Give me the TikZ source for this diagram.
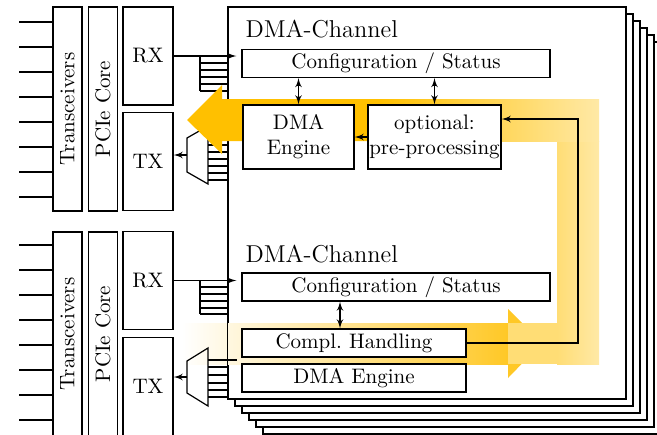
\documentclass[tikz,border=0pt]{standalone}
\usepackage{graphicx}
\usetikzlibrary{arrows}
\definecolor{dmaorange}{HTML}{FFC000}
\definecolor{dmagold}{HTML}{FFC826}
\definecolor{dmalight}{HTML}{FFDD75}
\definecolor{dmapale}{HTML}{FFE9A6}
\tikzstyle{line} = [draw, -latex']
\tikzstyle{dline} = [draw, latex'-latex']
\tikzstyle{phy} = [rectangle, draw, fill=white, inner sep=0pt, minimum width=14.5pt, minimum height=102pt, font=\fontsize{10.5}{12.5}\selectfont]
\tikzstyle{port} = [rectangle, draw, fill=white, inner sep=0pt, minimum width=25pt, minimum height=49pt, font=\fontsize{10.5}{12.5}\selectfont]
\tikzstyle{chan} = [rectangle, draw, fill=white, inner sep=0pt, minimum width=199pt, minimum height=196pt]
\tikzstyle{unit} = [rectangle, draw, fill=white, inner sep=0pt, align=center, minimum height=14pt, font=\fontsize{10.5}{12.5}\selectfont]
\tikzstyle{chantitle} = [anchor=base west, inner sep=0pt, font=\fontsize{12.2}{14}\selectfont]

\begin{document}
\begin{tikzpicture}[x=0.5pt, y=-0.5pt, semithick]
\useasboundingbox (0,0) rectangle (657,434);

% stacked channels
\foreach \i in {5,4,3,2,1}
  \node [chan] (stack\i) at (427+7*\i, 203+7*\i) {};
\node [chan] (chan) at (427,203) {};

% data flow, lower part
\shade [left color=white, right color=dmagold] (182,323) rectangle (508,364);
\fill [dmagold] (508,309) -- (542,343) -- (508,378) -- cycle;
\fill [dmalight] (508,323) rectangle (557,364);
\shade [left color=dmalight, right color=dmapale] (557,141) rectangle (599,364);
\draw (chan.north west) rectangle (chan.south east);

% upper interface
\node [phy] (trans1) at (67.5,109) {\rotatebox{90}{Transceivers}};
\node [phy, right of=trans1, node distance=17.75pt] (pcie1) {\rotatebox{90}{PCIe Core}};
\node [port] (rx1) at (148,56) {RX};
\node [port, below of=rx1, node distance=52.75pt] (tx1) {TX};
\foreach \y in {22,47,...,197}
  \draw (19,\y) coordinate (pin) -- (pin -| trans1.west);

\draw (200,56) -- (200,91);
\foreach \y in {63,70,77,84,91}
  \draw (200,\y) -- (228,\y);
\draw (187,138) -- (208,126) -- (208,184) -- (187,172) -- cycle;
\coordinate (mux1) at (187,155);
\foreach \y in {145,152,...,180}
  \draw (208,\y) -- (228,\y);

% lower interface
\node [phy, below of=trans1, node distance=112.5pt] (trans2) {\rotatebox{90}{Transceivers}};
\node [phy, right of=trans2, node distance=17.75pt] (pcie2) {\rotatebox{90}{PCIe Core}};
\node [port, below of=rx1, node distance=112.25pt] (rx2) {RX};
\node [port, below of=tx1, node distance=112.5pt] (tx2) {TX};
\foreach \y in {245,270,...,420}
  \draw (19,\y) coordinate (pin) -- (pin -| trans2.west);

\draw (200,280.5) -- (200,314);
\foreach \y in {287,294,301,308,314}
  \draw (200,\y) -- (228,\y);
\draw (187,361) -- (208,348) -- (208,406) -- (187,393) -- cycle;
\coordinate (mux2) at (187,377);
\draw (208,360) -- (237,360);
\foreach \y in {367,375,383,390,397}
  \draw (208,\y) -- (228,\y);

% data flow, upper part
\fill [dmaorange] (187,120) -- (222,85) -- (222,99) -- (380,99) -- (380,141) -- (222,141) -- (222,154) -- cycle;
\shade [left color=dmaorange, right color=dmapale] (380,99) rectangle (599,141);

% channel contents
\node [chantitle] (title1) at (245,37) {DMA-Channel};
\node [unit, minimum width=154pt] (conf1) at (396,63.5) {Configuration / Status};
\node [unit, minimum width=55.5pt, minimum height=32pt] (eng1) at (298.5,137) {DMA\\Engine};
\node [unit, right of=eng1, node distance=68pt, minimum width=66.5pt, minimum height=32pt] (pre1) {optional:\\pre-processing};

\node [chantitle] (title2) at (245,262) {DMA-Channel};
\node [unit, minimum width=154pt] (conf2) at (396,287) {Configuration / Status};
\node [unit, minimum width=112pt] (compl2) at (354,343) {Compl.\ Handling};
\node [unit, below of=compl2, node distance=17.5pt, minimum width=112pt] (eng2) {DMA Engine};

\path [line, shorten >=2.5pt] (rx1.east) -- (rx1.east -| conf1.west);
\path [line, shorten >=2.5pt] (rx2.east) -- (rx2.east -| conf2.west);
\path [line] (mux1) -- (mux1 -| tx1.east);
\path [line] (mux2) -- (mux2 -| tx2.east);

\path [dline] (eng1.north) -- (eng1.north |- conf1.south);
\path [dline] (pre1.north) -- (pre1.north |- conf1.south);
\path [line] (pre1.west) -- (eng1.east);
\path [dline] ([xshift=-7pt]compl2.north) -- ([xshift=-7pt]compl2.north |- conf2.south);

\coordinate (ret) at (578,119);
\path [line] (compl2.east) -| (ret) -- (ret -| pre1.east);

\end{tikzpicture}
\end{document}
